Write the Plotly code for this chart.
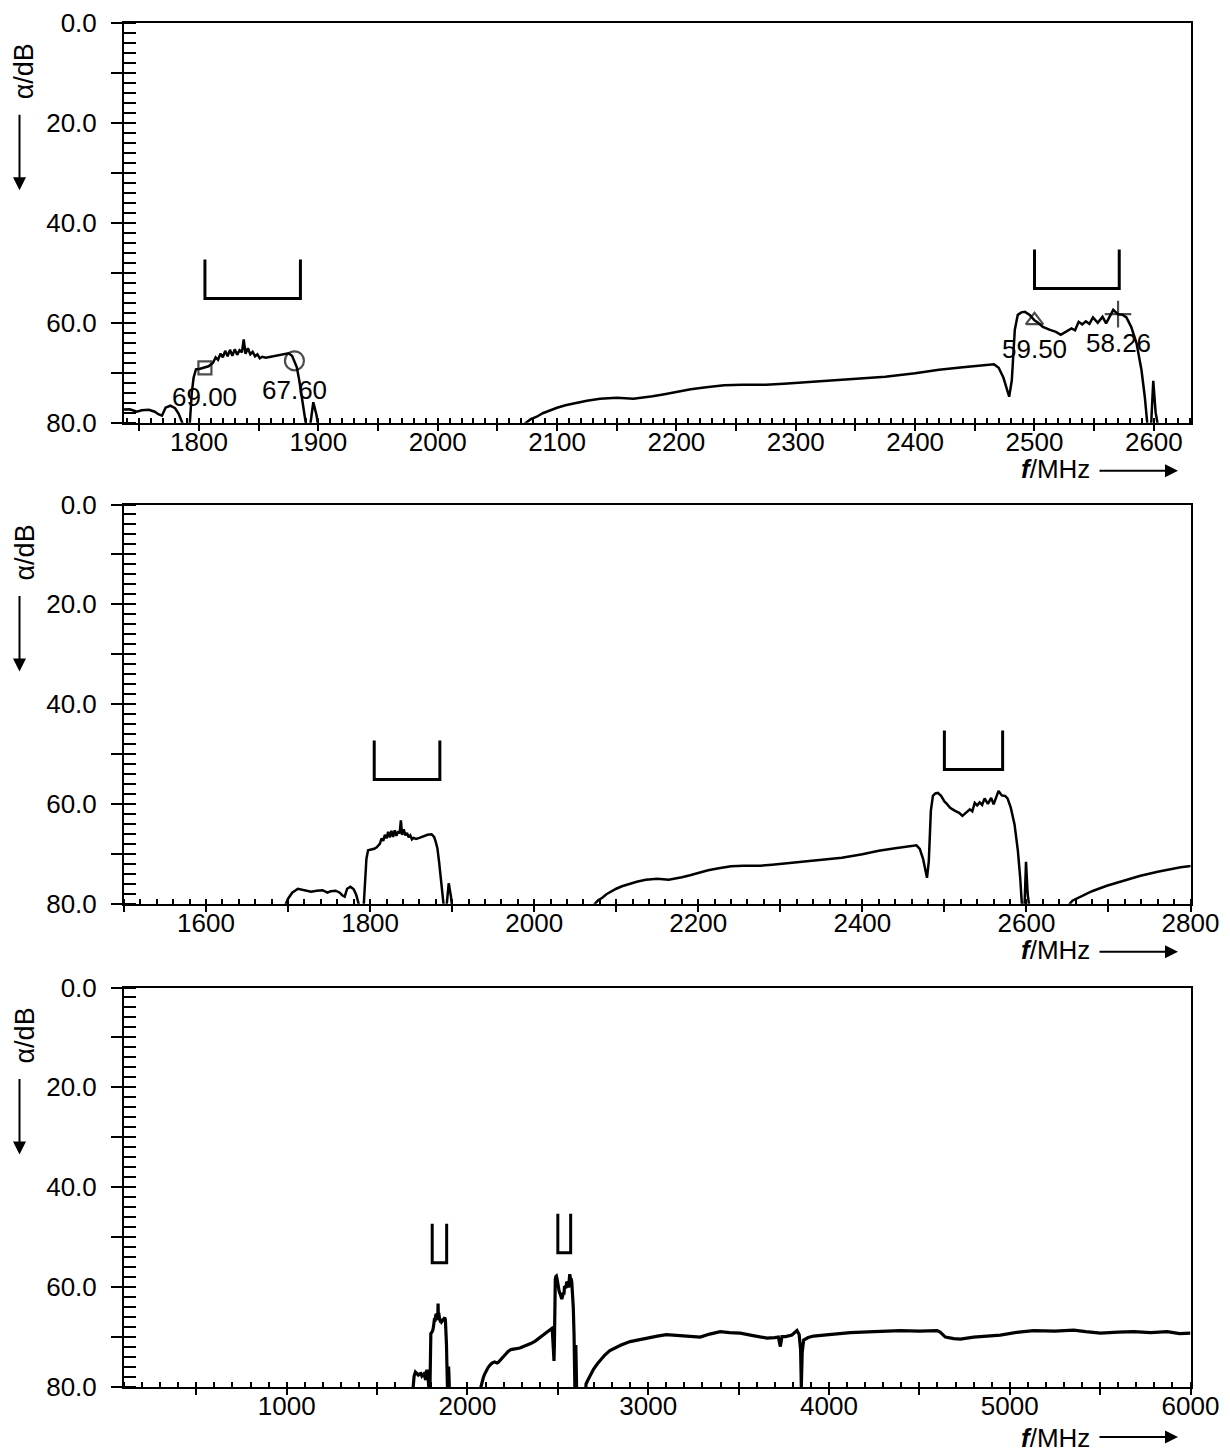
import plotly.graph_objects as go

W, H = 1230, 1453

# ---------------- data ----------------
freq_mhz = [1690, 1696, 1700, 1705, 1712, 1720, 1728, 1735, 1742, 1748, 1752, 1758, 1763, 1766,
            1769, 1772, 1776, 1780, 1783, 1786.5, 1791, 1792.5, 1794, 1795.5, 1797.5, 1801, 1805,
            1808, 1811.8, 1814, 1816, 1818, 1820, 1822, 1824, 1826, 1828, 1830, 1832, 1834, 1836,
            1837.5, 1839, 1841, 1843, 1845, 1847, 1849, 1851, 1853, 1856, 1860, 1865, 1870, 1875,
            1878, 1880, 1882, 1884, 1886, 1888, 1889.5, 1892, 1893.5, 1895.8, 1898.5, 1902,
            2071, 2073, 2078, 2083, 2088, 2094, 2100, 2107, 2114, 2125, 2136, 2150, 2164, 2172,
            2180, 2190, 2200, 2212, 2225, 2240, 2255, 2275, 2290, 2303, 2325, 2350, 2375, 2400,
            2420, 2440, 2455, 2466, 2470, 2474, 2478.8, 2481, 2483.5, 2486, 2489, 2492, 2496,
            2500, 2503, 2507, 2513, 2518, 2522, 2525, 2528, 2531, 2534, 2537, 2540, 2543, 2546,
            2549, 2553, 2557, 2560, 2563, 2566, 2570, 2574, 2577, 2581, 2585.5, 2589.6, 2592.4,
            2594.2, 2596, 2597.8, 2599.5, 2601.5, 2603.5, 2606,
            2649, 2652, 2656, 2665, 2680, 2698, 2720, 2739, 2760, 2788, 2808, 2850, 2900, 2950,
            3000, 3050, 3100, 3150, 3200, 3288, 3340, 3399, 3450, 3509, 3580, 3657, 3700, 3720,
            3731, 3740, 3760, 3795, 3823, 3835, 3843, 3847, 3852, 3860, 3885, 3915, 4000, 4118,
            4250, 4395, 4500, 4598, 4615, 4644, 4690, 4727, 4800, 4948, 5050, 5133, 5250, 5354,
            5420, 5502, 5600, 5686, 5780, 5871, 5940, 6000]
atten_db = [84, 80.5, 79.0, 77.8, 77.0, 77.3, 77.6, 77.4, 77.3, 77.8, 77.5, 77.4, 77.8, 78.3,
            78.6, 77.0, 76.6, 77.1, 78.2, 80.3, 84, 79.5, 74.0, 71.0, 69.3, 69.2, 69.0,
            68.7, 68.0, 66.9, 67.4, 66.2, 66.9, 65.6, 66.7, 65.4, 66.6, 65.3, 66.4, 65.5, 65.9,
            63.3, 66.2, 65.1, 66.3, 65.8, 66.7, 66.3, 67.1, 66.8, 67.0, 66.8, 66.5, 66.2, 66.1,
            66.6, 67.6, 68.9, 71.5, 75.0, 78.5, 81, 84, 80, 75.9, 78.5, 84,
            84, 80.2, 79.3, 78.8, 78.1, 77.5, 77.0, 76.5, 76.1, 75.6, 75.2, 75.0, 75.2, 75.0,
            74.7, 74.3, 73.8, 73.3, 72.9, 72.5, 72.4, 72.4, 72.2, 72.0, 71.7, 71.3, 70.8, 70.1,
            69.4, 68.9, 68.5, 68.3, 69.0, 71.0, 74.8, 71.5, 61.4, 58.4, 57.9, 57.8, 58.4,
            59.5, 60.0, 60.8, 61.4, 61.8, 62.4, 62.0, 61.5, 61.1, 61.5, 59.8, 60.3, 59.7, 60.2,
            58.9, 60.0, 58.8, 60.1, 58.6, 57.4, 58.3, 58.4, 58.9, 60.8, 64.1, 69.4, 74.8,
            80.5, 84, 80, 71.6, 78, 81, 84,
            84, 80.2, 79.4, 78.7, 77.5, 76.4, 75.3, 74.4, 73.6, 72.7, 72.3, 71.6, 70.9, 70.5,
            70.1, 69.8, 69.5, 69.6, 69.8, 70.0, 69.4, 68.9, 69.1, 69.2, 69.7, 70.2, 70.1, 70.0,
            71.9, 69.9, 69.9, 69.6, 68.7, 69.5, 72.5, 80, 73.0, 70.6, 70.1, 69.8, 69.5, 69.1,
            68.9, 68.7, 68.8, 68.7, 69.0, 70.0, 70.3, 70.4, 70.0, 69.6, 69.0, 68.7, 68.8, 68.6,
            68.9, 69.2, 69.0, 68.9, 69.1, 68.9, 69.3, 69.2]

# pass-band brackets: [f_low, f_high], [top dB, bottom dB]
band1_f = [1805, 1885]
band1_a = [47.3, 55.1]
band2_f = [2500, 2571]
band2_a = [45.3, 53.1]

# marker read-outs in the zoomed panel
marker_f = [1805, 1880, 2500, 2570]
marker_a = [69.00, 67.60, 59.50, 58.26]

# axis ranges and ticks
x_ranges = [[1737.2, 2630.7], [1500, 2800], [100, 6000]]
x1_major = [1750, 1800, 1850, 1900, 1950, 2000, 2050, 2100, 2150, 2200, 2250, 2300, 2350,
            2400, 2450, 2500, 2550, 2600]
x1_labels = ["1800", "1900", "2000", "2100", "2200", "2300", "2400", "2500", "2600"]
x2_major = [1500, 1600, 1700, 1800, 1900, 2000, 2100, 2200, 2300, 2400, 2500, 2600, 2700, 2800]
x2_labels = ["1600", "1800", "2000", "2200", "2400", "2600", "2800"]
x3_major = [500, 1000, 1500, 2000, 2500, 3000, 3500, 4000, 4500, 5000, 5500, 6000]
x3_labels = ["1000", "2000", "3000", "4000", "5000", "6000"]
x_minor_dtick = [10, 20, 100]
y_major = [0, 10, 20, 30, 40, 50, 60, 70, 80]
y_labels = ["0.0", "20.0", "40.0", "60.0", "80.0"]

# ---------------- layout geometry (pixels) ----------------
PX_L, PX_R = 124, 1190.5
panels_px = [(23.3, 422.7), (504.5, 903.7), (987.5, 1387.0)]
xtitle_off = [46, 46, 51]
xarrow_off = [48, 48, 50]
FONT = "Liberation Sans"
FS = 26


def fx(x):
    return x / W


def fy(y):
    return 1 - y / H


def ticktext_for(vals, labels):
    return [str(v) if str(v) in labels else "" for v in vals]


y_text = [("%.1f" % v) if ("%.1f" % v) in y_labels else "" for v in y_major]

fig = go.Figure()
x_major_all = [x1_major, x2_major, x3_major]
x_labels_all = [x1_labels, x2_labels, x3_labels]

annotations = []
for i in range(3):
    n = "" if i == 0 else str(i + 1)
    xa, ya = "x" + n, "y" + n
    lw = 2.5 if i < 2 else 3.2
    fig.add_trace(go.Scatter(x=freq_mhz, y=atten_db, mode="lines", xaxis=xa, yaxis=ya,
                             line=dict(color="black", width=lw), showlegend=False,
                             hoverinfo="skip"))
    for bf, ba in ((band1_f, band1_a), (band2_f, band2_a)):
        fig.add_trace(go.Scatter(x=[bf[0], bf[0], bf[1], bf[1]],
                                 y=[ba[0], ba[1], ba[1], ba[0]], mode="lines",
                                 xaxis=xa, yaxis=ya, line=dict(color="black", width=3),
                                 showlegend=False, hoverinfo="skip"))
    top, bot = panels_px[i]
    dom_y = [fy(bot), fy(top)]
    fig.layout["xaxis" + n] = dict(
        domain=[fx(PX_L), fx(PX_R)], anchor=ya, range=x_ranges[i], automargin=False,
        showline=True, mirror=True, linecolor="black", linewidth=2,
        showgrid=False, zeroline=False,
        tickmode="array", tickvals=x_major_all[i],
        ticktext=ticktext_for(x_major_all[i], x_labels_all[i]),
        ticks="outside", ticklen=6, tickwidth=2, tickcolor="black",
        tickfont=dict(family=FONT, size=FS, color="black"),
        ticklabelstandoff=-11,
        minor=dict(ticks="inside", ticklen=5, tickwidth=1.5, tickcolor="black",
                   tickmode="linear", tick0=0, dtick=x_minor_dtick[i], showgrid=False),
    )
    fig.layout["yaxis" + n] = dict(
        domain=dom_y, anchor=xa, range=[80, 0], automargin=False,
        showline=True, mirror=True, linecolor="black", linewidth=2,
        showgrid=False, zeroline=False,
        tickmode="array", tickvals=y_major, ticktext=y_text,
        ticks="outside", ticklen=11, tickwidth=2, tickcolor="black",
        tickfont=dict(family=FONT, size=FS, color="black"),
        ticklabelstandoff=9,
        minor=dict(ticks="inside", ticklen=12, tickwidth=2, tickcolor="black",
                   tickmode="linear", tick0=0, dtick=2, showgrid=False),
    )
    # y title (rotated) with downward arrow
    annotations.append(dict(xref="paper", yref="paper", x=fx(24), y=fy(top + 48),
                            text="α/dB", textangle=-90, showarrow=False,
                            font=dict(family=FONT, size=27, color="black"),
                            xanchor="center", yanchor="middle"))
    annotations.append(dict(xref="paper", yref="paper", x=fx(19.5), y=fy(top + 167),
                            text="", showarrow=True, ax=0, ay=-77, arrowhead=2,
                            arrowsize=1.3, arrowwidth=2, arrowcolor="black"))
    # x title with arrow to the right
    annotations.append(dict(xref="paper", yref="paper", x=fx(1092), y=fy(bot + xtitle_off[i]),
                            text="<b><i>f</i></b>/MHz", showarrow=False,
                            font=dict(family=FONT, size=26, color="black"),
                            xanchor="right", yanchor="middle"))
    annotations.append(dict(xref="paper", yref="paper", x=fx(1178), y=fy(bot + xarrow_off[i]),
                            text="", showarrow=True, ax=-80, ay=0, arrowhead=2,
                            arrowsize=1.3, arrowwidth=2, arrowcolor="black"))

# markers in the first panel
symbols = ["square-open", "circle-open", "triangle-up-open", "cross-thin-open"]
sizes = [13, 19, 15, 19]
fig.add_trace(go.Scatter(x=marker_f, y=marker_a, mode="markers", xaxis="x", yaxis="y",
                         marker=dict(symbol=symbols, size=sizes, color="black",
                                     line=dict(color="black", width=2.2)),
                         showlegend=False, hoverinfo="skip", cliponaxis=False))
for f, a in zip(marker_f, marker_a):
    annotations.append(dict(xref="x", yref="y", x=f, y=a, text="%.2f" % a, showarrow=False,
                            yshift=-29, font=dict(family=FONT, size=FS, color="black"),
                            xanchor="center", yanchor="middle"))

fig.update_layout(width=W, height=H, autosize=False,
                  margin=dict(l=0, r=0, t=0, b=0, pad=0, autoexpand=False),
                  paper_bgcolor="white", plot_bgcolor="white",
                  annotations=annotations, showlegend=False)

fig.write_html("out.html")
